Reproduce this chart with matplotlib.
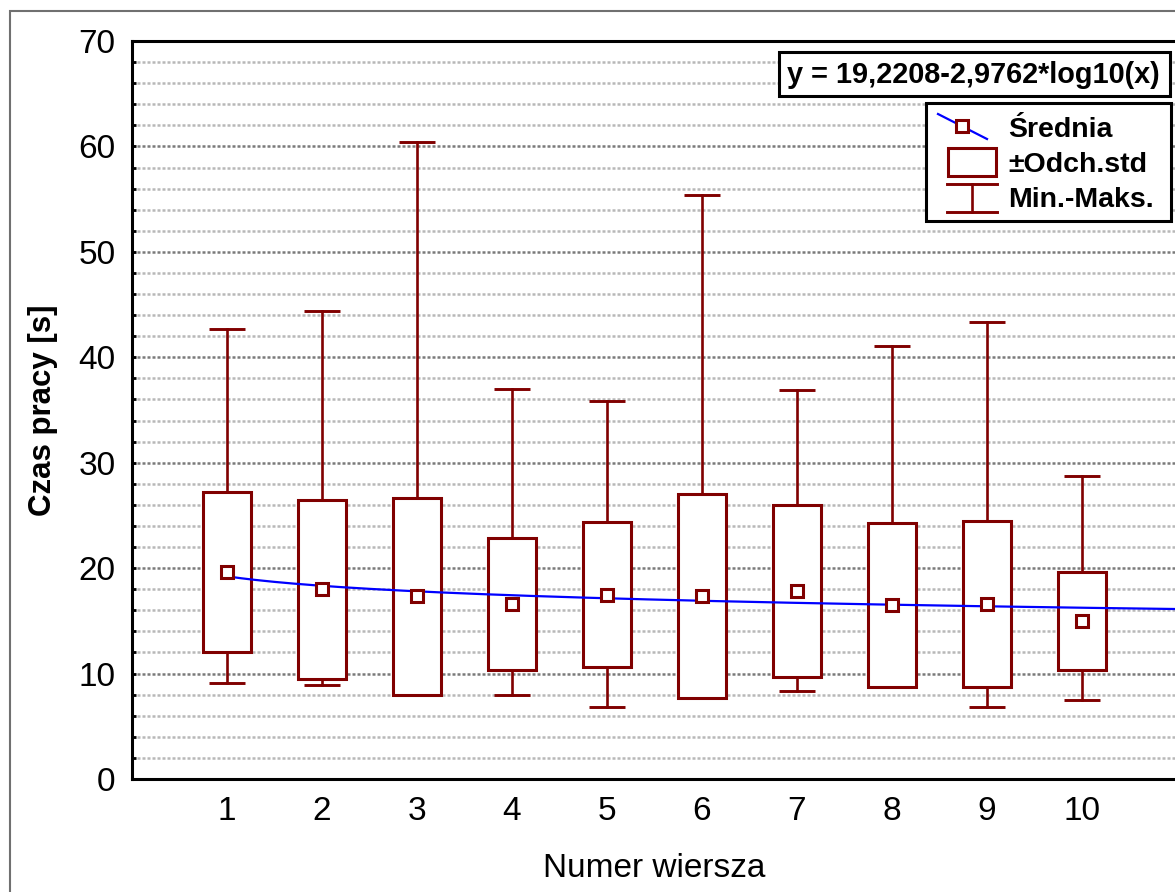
import numpy as np
import matplotlib
matplotlib.use("Agg")
import matplotlib.pyplot as plt
from matplotlib.patches import Rectangle
from matplotlib.lines import Line2D

# ========= dane =========
rows = [1, 2, 3, 4, 5, 6, 7, 8, 9, 10]
means = [19.6, 18.0, 17.35, 16.6, 17.5, 17.35, 17.85, 16.5, 16.6, 14.95]
sds = [7.6, 8.5, 9.35, 6.3, 6.9, 9.65, 8.15, 7.8, 7.9, 4.65]
mins = [9.1, 8.9, 8.0, 8.0, 6.8, 7.7, 8.3, 8.7, 6.85, 7.45]
maxs = [42.7, 44.4, 60.4, 37.0, 35.9, 55.4, 36.9, 41.1, 43.3, 28.7]

# trend: y = a - b*log10(x)
fit_a = 19.2208
fit_b = 2.9762
fit_label = "y = 19,2208-2,9762*log10(x)"

# ========= styl =========
plt.rcParams.update({
    "font.family": "Liberation Sans",
    "font.size": 24,
    "axes.linewidth": 2.2,
})
RED = "#800000"
BLUE = "#0000ff"
W, H = 1175, 892


def fx(px):
    return px / W


def fy(py):
    return 1 - py / H


fig = plt.figure(figsize=(W / 100, H / 100), dpi=100)
ax = fig.add_axes([fx(132), fy(779), (1177 - 132) / W, (779 - 41) / H])

# ========= siatka =========
ax.set_xlim(0, 11)
ax.set_ylim(0, 70)
ax.set_yticks(np.arange(0, 71, 10))
ax.set_yticks(np.arange(0, 71, 2), minor=True)
ax.set_xticks(rows)
ax.grid(axis="y", which="major", color="#7a7a7a", linewidth=1.8,
        linestyle=(0, (1.2, 0.8)), zorder=0)
ax.grid(axis="y", which="minor", color="#b8b8b8", linewidth=1.8,
        linestyle=(0, (1.2, 0.8)), zorder=0)
ax.set_axisbelow(True)
ax.tick_params(axis="y", which="both", direction="in", length=3, width=2,
               pad=12, labelsize=24)
ax.tick_params(axis="x", length=0, pad=12, labelsize=24)
ax.spines["right"].set_visible(False)

# ========= pudelka =========
box_w = 0.5
cap_w = 0.38
for x, m, s, lo, hi in zip(rows, means, sds, mins, maxs):
    ax.plot([x, x], [m + s, hi], color=RED, lw=1.9, zorder=2)
    ax.plot([x, x], [lo, m - s], color=RED, lw=1.9, zorder=2)
    ax.plot([x - cap_w / 2, x + cap_w / 2], [hi, hi], color=RED, lw=2.1,
            solid_capstyle="butt", zorder=2)
    ax.plot([x - cap_w / 2, x + cap_w / 2], [lo, lo], color=RED, lw=2.1,
            solid_capstyle="butt", zorder=2)
    ax.add_patch(Rectangle((x - box_w / 2, m - s), box_w, 2 * s,
                           facecolor="white", edgecolor=RED, lw=2.2, zorder=3))

# linia trendu
xs = np.linspace(1, 11, 200)
ax.plot(xs, fit_a - fit_b * np.log10(xs), color=BLUE, lw=1.6, zorder=4,
        clip_on=False)
ax.plot(rows, means, linestyle="none", marker="s", markersize=9,
        markerfacecolor="white", markeredgecolor=RED, markeredgewidth=2.2,
        zorder=5)

ax.set_xlabel("Numer wiersza", fontsize=24, va="baseline")
ax.xaxis.set_label_coords(0.5, -(877 - 779) / 738)
ax.set_ylabel("Czas pracy [s]", fontsize=22.5, fontweight="bold", va="center")
ax.yaxis.set_label_coords((43 - 132) / 1045, 0.5)

# ========= rownanie =========
fig.add_artist(Rectangle((fx(779), fy(96)), fx(1170) - fx(779), fy(52) - fy(96),
                         transform=fig.transFigure, facecolor="white",
                         edgecolor="black", lw=2.2, zorder=10))
fig.text(fx(787), fy(83), fit_label, fontsize=20.8, fontweight="bold",
         va="baseline", ha="left", zorder=11)

# ========= legenda =========
fig.add_artist(Rectangle((fx(926), fy(221)), fx(1171) - fx(926), fy(103) - fy(221),
                         transform=fig.transFigure, facecolor="white",
                         edgecolor="black", lw=2.2, zorder=10))
fig.add_artist(Line2D([fx(938), fx(987)], [fy(114), fy(139)], color=BLUE, lw=1.6,
                      transform=fig.transFigure, zorder=11))
fig.add_artist(Line2D([fx(962)], [fy(126)], marker="s", markersize=9,
                      markerfacecolor="white", markeredgecolor=RED,
                      markeredgewidth=2.2, transform=fig.transFigure, zorder=12))
fig.add_artist(Rectangle((fx(948), fy(176)), fx(996) - fx(948), fy(148) - fy(176),
                         transform=fig.transFigure, facecolor="white",
                         edgecolor=RED, lw=2.2, zorder=11))
for yy in (184, 212):
    fig.add_artist(Line2D([fx(947), fx(997)], [fy(yy), fy(yy)], color=RED, lw=2.1,
                          transform=fig.transFigure, zorder=11))
fig.add_artist(Line2D([fx(972), fx(972)], [fy(184), fy(212)], color=RED, lw=1.9,
                      transform=fig.transFigure, zorder=11))
for txt, base in [("Średnia", 137), ("±Odch.std", 172), ("Min.-Maks.", 207)]:
    fig.text(fx(1008), fy(base), txt, fontsize=20.5, fontweight="bold",
             va="baseline", ha="left", zorder=12)

# ramka okna
fig.add_artist(Rectangle((fx(10), fy(1000)), 1.2, fy(11) - fy(1000),
                         transform=fig.transFigure, facecolor="none",
                         edgecolor="#707070", lw=1.5, zorder=20))

fig.savefig("out.png", dpi=100)
